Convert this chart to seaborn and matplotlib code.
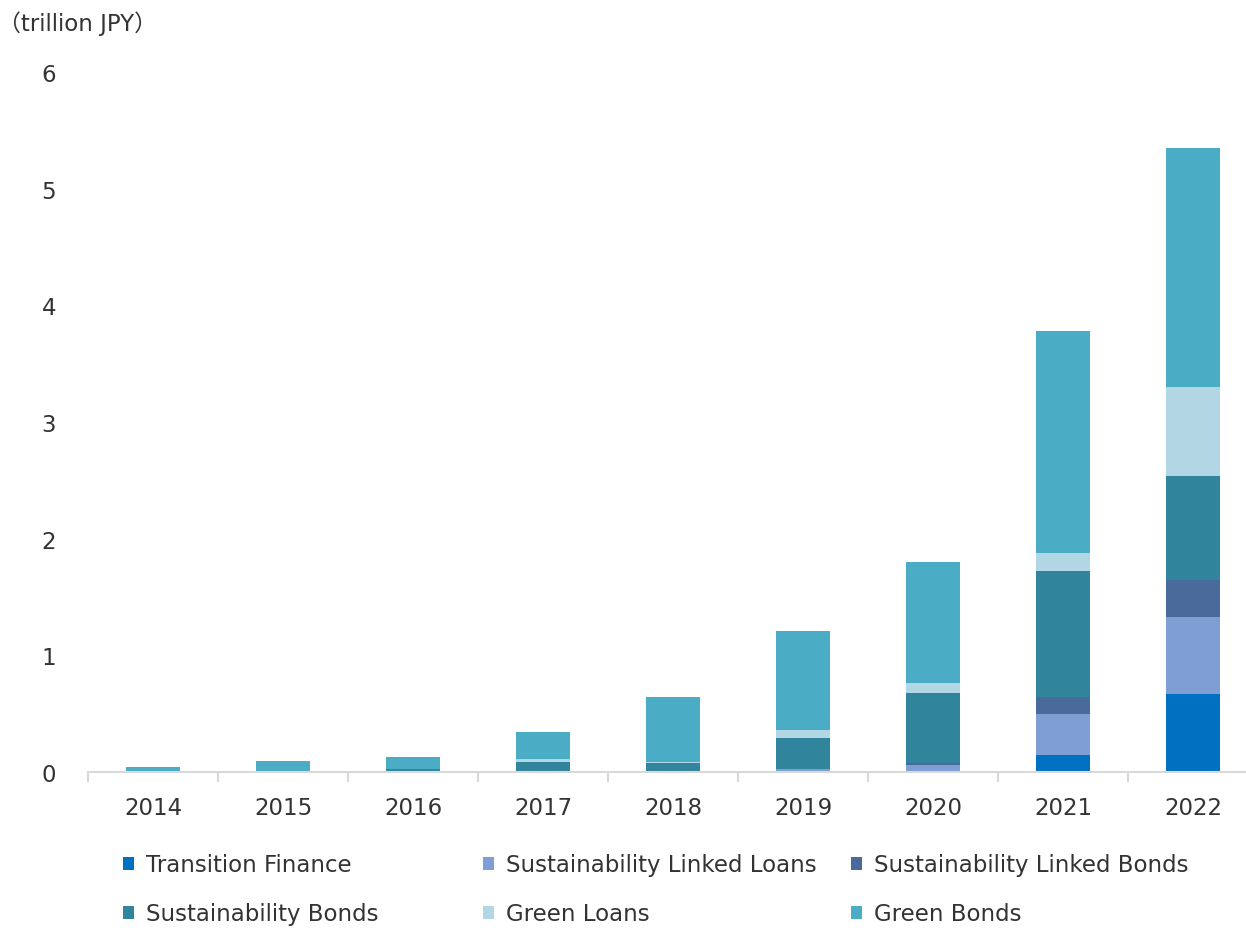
import numpy as np
import pandas as pd
import matplotlib
matplotlib.use("Agg")
import matplotlib.pyplot as plt
import seaborn as sns
from matplotlib.patches import Patch

years = ["2014", "2015", "2016", "2017", "2018", "2019", "2020", "2021", "2022"]
transition_finance = [0, 0, 0, 0, 0, 0, 0, 0.15, 0.67]
sl_loans = [0, 0, 0, 0, 0, 0.03, 0.06, 0.35, 0.66]
sl_bonds = [0, 0, 0, 0, 0, 0, 0.02, 0.14, 0.32]
sust_bonds = [0, 0.01, 0.025, 0.09, 0.075, 0.26, 0.60, 1.08, 0.89]
green_loans = [0, 0, 0, 0.02, 0.01, 0.07, 0.08, 0.16, 0.76]
green_bonds = [0.04, 0.085, 0.105, 0.235, 0.56, 0.85, 1.04, 1.90, 2.05]

series_names = ["Transition Finance", "Sustainability Linked Loans", "Sustainability Linked Bonds",
                "Sustainability Bonds", "Green Loans", "Green Bonds"]
series_vals = [transition_finance, sl_loans, sl_bonds, sust_bonds, green_loans, green_bonds]
colors = ["#0070C0", "#7F9ED3", "#4A6A9B", "#30849C", "#B2D6E4", "#4BACC6"]

sns.set_theme(style="white")
plt.rcParams["font.family"] = ["DejaVu Sans", "Noto Sans CJK JP"]
text_color = "#333333"
FS = 16.5
W, H = 1246, 929

fig = plt.figure(figsize=(W / 100, H / 100), dpi=100)
ax = fig.add_axes([88 / W, 1 - 773 / H, (1258 - 88) / W, (773 - 73) / H])

cum = np.cumsum(np.array(series_vals), axis=0)
for i in reversed(range(len(series_names))):
    df = pd.DataFrame({"year": years, "value": cum[i]})
    sns.barplot(data=df, x="year", y="value", color=colors[i], width=0.415,
                saturation=1, linewidth=0, ax=ax, order=years)

ax.set_ylim(0, 6)
ax.set_xlim(-0.5, len(years) - 0.5)
ax.set_yticks(range(0, 7))
ax.set_xlabel("")
ax.set_ylabel("")
for s in ["left", "right", "top"]:
    ax.spines[s].set_visible(False)
ax.spines["bottom"].set_color("#D9D9D9")
ax.spines["bottom"].set_linewidth(1.5)
ax.spines["bottom"].set_clip_on(False)

# category separator ticks
ax.set_xticks(np.arange(-0.5, len(years), 1.0), minor=True)
ax.tick_params(axis="x", which="minor", length=7, width=1.5, color="#D9D9D9", bottom=True)
ax.tick_params(axis="x", which="major", length=0, pad=17, labelsize=FS, labelcolor=text_color)
ax.tick_params(axis="y", length=0, pad=23, labelsize=FS, labelcolor=text_color)

fig.text(-2 / W, 1 - 24 / H, "（trillion JPY）", fontsize=FS, color=text_color,
         va="center", ha="left")

# legend entries, row-major: positions of marker left edge and row center
leg_x = [123, 483, 851, 123, 483, 851]
leg_y = [866, 866, 866, 915, 915, 915]
for i, name in enumerate(series_names):
    h = Patch(facecolor=colors[i], edgecolor="none")
    leg = fig.legend([h], [name], loc="center left",
                     bbox_to_anchor=(leg_x[i] / W, 1 - leg_y[i] / H),
                     frameon=False, fontsize=FS, handlelength=0.5, handleheight=0.5,
                     handletextpad=0.5, borderpad=0, borderaxespad=0)
    for t in leg.get_texts():
        t.set_color(text_color)

fig.savefig("out.png", dpi=100)
